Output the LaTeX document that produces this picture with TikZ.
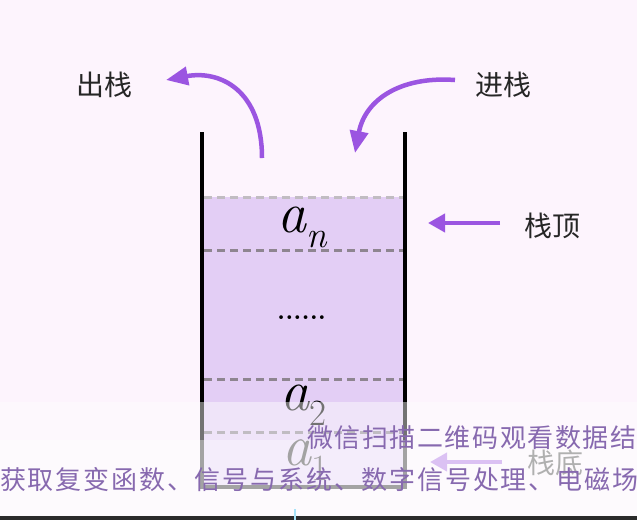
\documentclass[tikz,border=0pt]{standalone}
\usepackage{fontspec}
\newfontfamily\cjk{Noto Sans CJK SC}
\newfontfamily\cjkwm[LetterSpace=6]{Noto Sans CJK SC}
\newfontfamily\cjkwmb[LetterSpace=7]{Noto Sans CJK SC}
\usetikzlibrary{arrows.meta}
\definecolor{hinter}{HTML}{FDF4FD}
\definecolor{lila}{HTML}{E3CEF5}
\definecolor{pfeil}{HTML}{9B55E1}
\definecolor{strich}{HTML}{8E8590}
\definecolor{wasser}{HTML}{8769AF}
\newcommand\elem[1]{{\itshape a}\raisebox{-0.26em}{\fontsize{37}{37}\selectfont #1}}

\begin{document}
\begin{tikzpicture}[x=1pt,y=-1pt,
	label node/.style={font=\cjk\fontsize{28}{30}\selectfont,text=black!85},
	elem node/.style={font=\fontsize{58}{60}\selectfont,anchor=base west,inner sep=0pt},
	wm node/.style={inner sep=0pt,anchor=west,text=wasser},
	bend edge/.style={-{Triangle[length=22pt,width=18pt]},line width=4.5pt,draw=pfeil},
	flat edge/.style={-{Triangle[length=17pt,width=18pt]},line width=4pt,draw=pfeil},
	trenn/.style={dash pattern=on 8pt off 5pt,line width=3pt,draw=strich},
	wand/.style={line width=3.5pt}]

	\useasboundingbox (0,0) rectangle (637,520);
	\fill[hinter] (0,0) rectangle (637,520);

	% stack body
	\fill[lila] (202,197) rectangle (405,487);
	\draw[trenn,draw=strich!55] (204,197) -- (403,197);
	\draw[trenn] (204,250) -- (403,250);
	\draw[trenn] (204,379) -- (403,379);
	\draw[trenn] (204,432) -- (403,432);
	\draw[wand] (202,132) -- (202,487) -- (405,487) -- (405,132);

	\node[elem node] (an) at (277,232) {\elem{\itshape n}};
	\node[font=\bfseries\fontsize{26}{28}\selectfont,anchor=base west,inner sep=0pt] (dots) at (277,319) {......};
	\node[elem node] (a2) at (280,410) {\elem{2}};
	\node[elem node] (a1) at (282,465) {\elem{1}};

	% labels
	\node[label node] (out) at (104,85) {出栈};
	\node[label node] (in) at (503,85) {进栈};
	\node[label node] (top) at (552,226) {栈顶};
	\node[label node] (bot) at (555,463) {栈底};

	\coordinate (o1) at (262,158);
	\coordinate (o2) at (166,80);
	\coordinate (i1) at (455,80);
	\coordinate (i2) at (355,153);
	\coordinate (t1) at (500,223);
	\coordinate (t2) at (428,223);
	\coordinate (b1) at (502,462);
	\coordinate (b2) at (430,462);

	\draw[bend edge] (o1) .. controls (262,90) and (220,70) .. (o2);
	\draw[bend edge] (i1) .. controls (400,76) and (365,100) .. (i2);
	\draw[flat edge] (t1) -- (t2);
	\draw[flat edge] (b1) -- (b2);

	% overlay
	\fill[white,opacity=0.45] (0,402) rectangle (637,516);
	\fill[white,opacity=0.35] (0,440) rectangle (637,516);
	\fill[black!83] (0,516) rectangle (637,520);
	\draw[cyan!35,line width=1.5pt] (295,509) -- (295,520);

	\node[wm node,font=\cjkwm\fontsize{26}{28}\selectfont] (wm1) at (307,438) {微信扫描二维码观看数据结};
	\node[wm node,font=\cjkwmb\fontsize{26}{28}\selectfont] (wm2) at (0,480) {获取复变函数、信号与系统、数字信号处理、电磁场};
\end{tikzpicture}
\end{document}
